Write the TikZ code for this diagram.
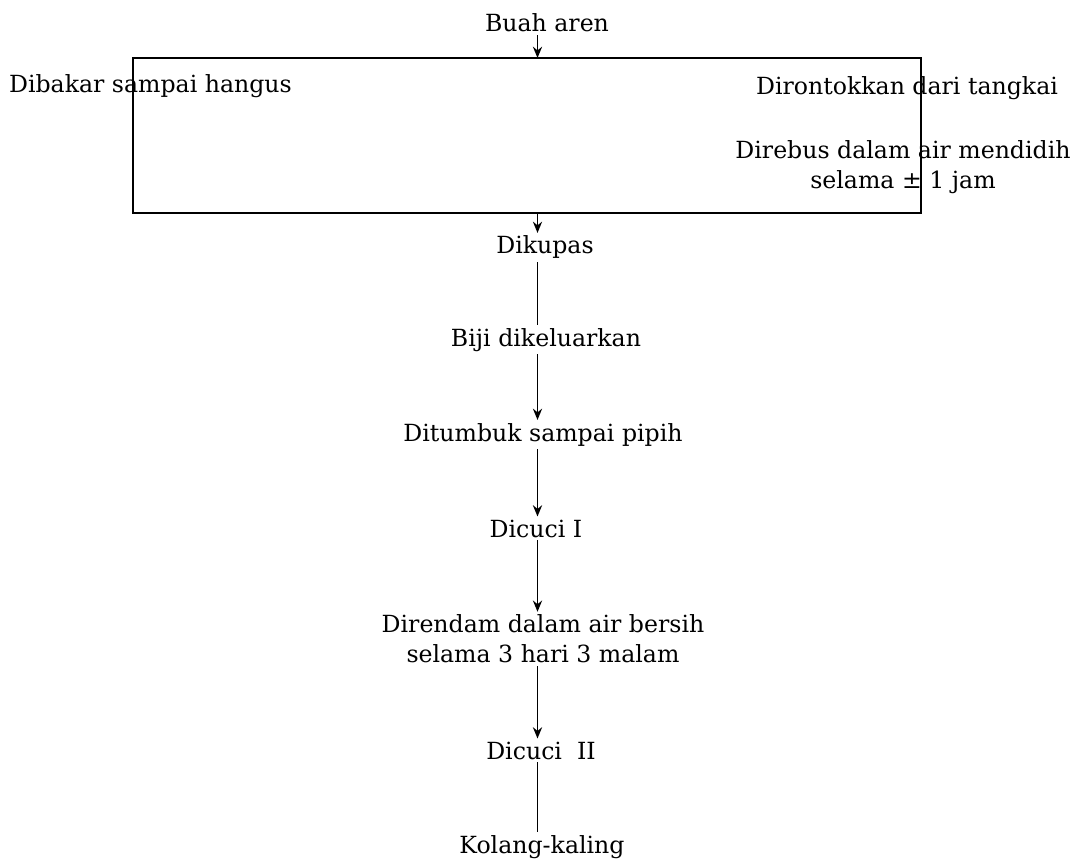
\documentclass[tikz,border=0pt]{standalone}
\usepackage{fontspec}
\setmainfont{DejaVu Serif}
\usetikzlibrary{arrows.meta}
\begin{document}
\begin{tikzpicture}[x=0.025cm, y=-0.025cm,
  every node/.style={font=\fontsize{16.8}{21.3}\selectfont, inner sep=2pt, anchor=base},
  frame/.style={line width=1.6pt},
  line/.style={line width=1.3pt},
  arr/.style={line width=1.3pt, -{Stealth[length=8pt,width=6.5pt]}}]
\useasboundingbox (0,0) rectangle (1089,859);
\coordinate (spine) at (537.5, 0);
\coordinate (tl) at (133, 58);
\coordinate (br) at (921, 213);
\node (buah) at (547, 32) {Buah aren};
\node[anchor=base west] (dibakar) at (6, 93) {Dibakar sampai hangus};
\node (dirontok) at (907, 95) {Dirontokkan dari tangkai};
\node[anchor=center, align=center] (direbus) at (903, 167) {Direbus dalam air mendidih\\selama ± 1 jam};
\node (dikupas) at (545, 254) {Dikupas};
\node (biji) at (546, 346) {Biji dikeluarkan};
\node (ditumbuk) at (543, 441) {Ditumbuk sampai pipih};
\node (dicuci1) at (536, 537) {Dicuci I};
\node[anchor=center, align=center] (direndam) at (543, 639) {Direndam dalam air bersih\\selama 3 hari 3 malam};
\node (dicuci2) at (541, 759) {Dicuci~ II};
\node (kolang) at (542, 853) {Kolang-kaling};
\draw [frame] (tl) rectangle (br);
\draw [arr] (buah.south -| spine) -- (tl -| spine);
\draw [arr] (br -| spine) -- (dikupas.north -| spine);
\draw [line] (dikupas.south -| spine) -- (biji.north -| spine);
\draw [arr] (biji.south -| spine) -- (ditumbuk.north -| spine);
\draw [arr] (ditumbuk.south -| spine) -- (dicuci1.north -| spine);
\draw [arr] (dicuci1.south -| spine) -- (direndam.north -| spine);
\draw [arr] (direndam.south -| spine) -- (dicuci2.north -| spine);
\draw [line] (dicuci2.south -| spine) -- (kolang.north -| spine);
\end{tikzpicture}
\end{document}
